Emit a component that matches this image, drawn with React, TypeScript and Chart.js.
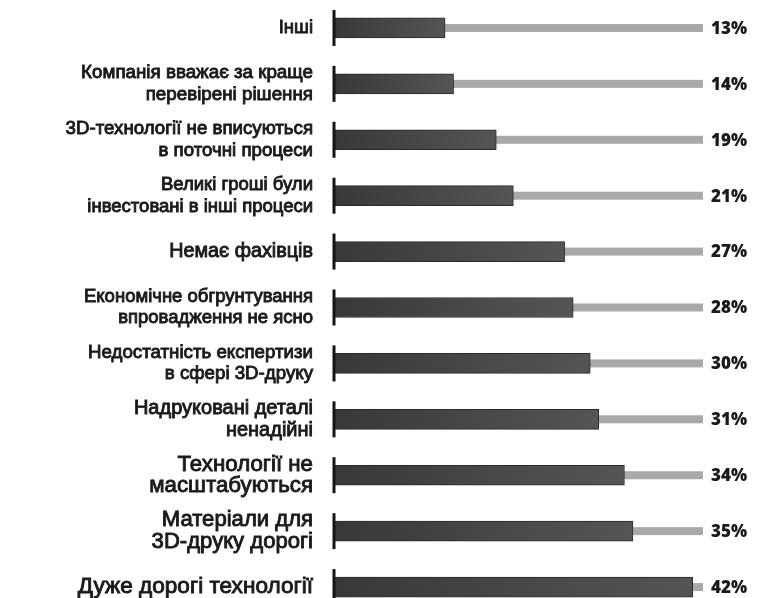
import React, { useEffect, useRef } from "react";
import { Chart, registerables } from "chart.js";

Chart.register(...registerables);

const categories: (string | string[])[] = [
  "Інші",
  ["Компанія вважає за краще", "перевірені рішення"],
  ["3D-технології не вписуються", "в поточні процеси"],
  ["Великі гроші були", "інвестовані в інші процеси"],
  "Немає фахівців",
  ["Економічне обгрунтування", "впровадження не ясно"],
  ["Недостатність експертизи", "в сфері 3D-друку"],
  ["Надруковані деталі", "ненадійні"],
  ["Технології не", "масштабуються"],
  ["Матеріали для", "3D-друку дорогі"],
  "Дуже дорогі технології",
];

const values: number[] = [13, 14, 19, 21, 27, 28, 30, 31, 34, 35, 42];

const valueLabels: string[] = ["13%", "14%", "19%", "21%", "27%", "28%", "30%", "31%", "34%", "35%", "42%"];

// label font sizes (the reference enlarges the shorter labels)
const labelFontSizes: number[] = [18.5, 18.8, 18.7, 18.5, 19.8, 18.5, 18.7, 20, 22.3, 22.1, 22.6];

const TRACK_COLOR = "#a9a9a9";
const TEXT_COLOR = "#1a1a1a";

const decorPlugin = {
  id: "decor",
  beforeDatasetsDraw(chart: any) {
    const { ctx, chartArea, scales } = chart;
    const x = scales.x;
    const y = scales.y;
    ctx.save();
    ctx.fillStyle = TRACK_COLOR;
    const x0 = x.getPixelForValue(0);
    values.forEach((_v, i) => {
      const cy = y.getPixelForValue(i);
      ctx.fillRect(x0, cy - 4, chartArea.right - x0, 8);
    });
    ctx.restore();
  },
  afterDatasetsDraw(chart: any) {
    const { ctx, chartArea, scales } = chart;
    const x = scales.x;
    const y = scales.y;
    const x0 = x.getPixelForValue(0);
    ctx.save();
    values.forEach((_v, i) => {
      const cy = y.getPixelForValue(i);
      ctx.fillStyle = "#151515";
      ctx.fillRect(x0 - 1.5, cy - 18, 3, 36);
      ctx.fillStyle = TEXT_COLOR;
      ctx.font = "800 17px 'Open Sans', 'DejaVu Sans', sans-serif";
      ctx.textAlign = "left";
      ctx.textBaseline = "middle";
      ctx.fillText(valueLabels[i], chartArea.right + 8, cy + 1);
    });
    ctx.restore();
  },
};

export default function App() {
  const ref = useRef<HTMLCanvasElement | null>(null);

  useEffect(() => {
    if (!ref.current) return;
    const chart = new Chart(ref.current, {
      type: "bar",
      data: {
        labels: categories as any,
        datasets: [
          {
            data: values,
            barThickness: 20,
            borderWidth: 1,
            borderColor: "#2a2a2a",
            borderSkipped: false,
            backgroundColor: (c: any) => {
              const chart = c.chart;
              const area = chart.chartArea;
              if (!area) return "#444";
              const xs = chart.scales.x;
              const v = values[c.dataIndex] ?? 0;
              const x0 = xs.getPixelForValue(0);
              const x1 = xs.getPixelForValue(v);
              const g = chart.ctx.createLinearGradient(x0, 0, x1, 0);
              g.addColorStop(0, "#383838");
              g.addColorStop(1, "#555555");
              return g;
            },
          },
        ],
      },
      options: {
        indexAxis: "y",
        animation: false,
        responsive: false,
        layout: { padding: { top: 0, bottom: 0, left: 0, right: 55 } },
        plugins: {
          legend: { display: false },
          tooltip: { enabled: false },
        },
        scales: {
          x: {
            display: false,
            min: 0,
            max: 43.2,
          },
          y: {
            grid: { display: false },
            border: { display: false },
            ticks: {
              color: TEXT_COLOR,
              padding: 13,
              textStrokeColor: TEXT_COLOR,
              textStrokeWidth: 0.9,
              font: (c: any) => ({
                family: "'Liberation Sans', Arial, sans-serif",
                size: labelFontSizes[c.index] ?? 18.5,
                lineHeight: "21.5px",
              }),
            },
            afterFit: (scale: any) => {
              scale.width = 334;
              scale.paddingTop = 0;
              scale.paddingBottom = 0;
            },
          },
        },
      },
      plugins: [decorPlugin],
    });
    return () => chart.destroy();
  }, []);

  return (
    <div style={{ position: "fixed", left: 0, top: 0, width: 758, height: 598, overflow: "hidden", background: "#fff" }}>
      <canvas ref={ref} width={758} height={615} style={{ display: "block", width: 758, height: 615 }} />
    </div>
  );
}
